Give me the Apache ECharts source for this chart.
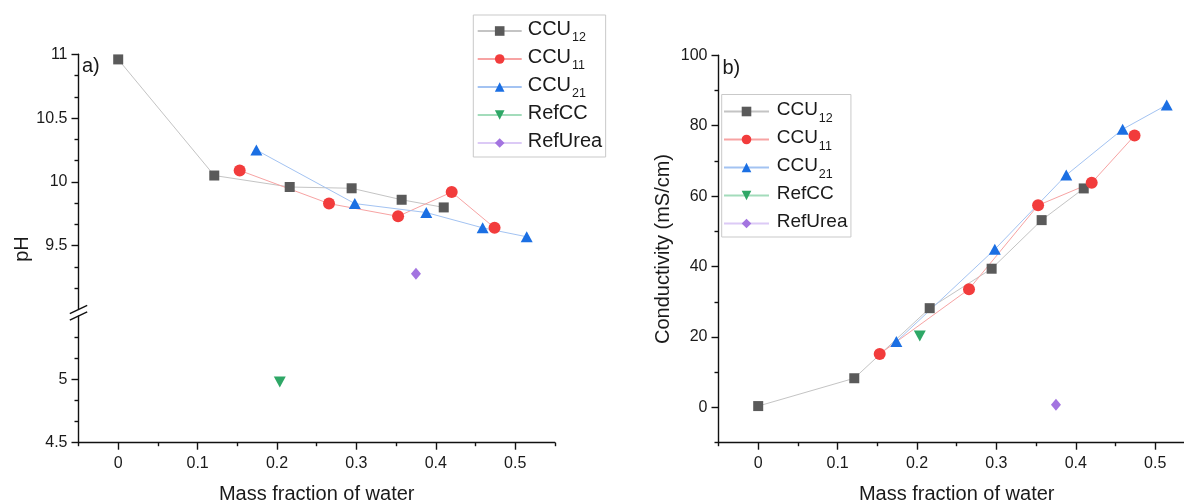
<!DOCTYPE html>
<html><head><meta charset="utf-8">
<script src="https://cdn.jsdelivr.net/npm/echarts@6/dist/echarts.min.js"></script>
<style>html,body{margin:0;padding:0;background:#fff}#c{width:1184px;height:503px}</style>
</head><body><div id="c"></div>
<script>
// ---- data ----
const seriesNames = ['CCU12', 'CCU11', 'CCU21', 'RefCC', 'RefUrea'];
const xCCU12 = [0, 0.121, 0.216, 0.294, 0.357, 0.41];
const xCCU11 = [0.153, 0.2655, 0.3525, 0.42, 0.474];
const xCCU21 = [0.174, 0.298, 0.388, 0.459, 0.5145];
const xRefCC = [0.2035];
const xRefUrea = [0.375];
const pHCCU12 = [10.96, 10.05, 9.96, 9.95, 9.86, 9.80];
const pHCCU11 = [10.09, 9.83, 9.73, 9.92, 9.64];
const pHCCU21 = [10.25, 9.83, 9.76, 9.64, 9.57];
const pHRefCC = [4.98];
const pHRefUrea = [9.28];
const condCCU12 = [0.4, 8.3, 28.2, 39.4, 53.2, 62.2];
const condCCU11 = [15.2, 33.6, 57.4, 63.8, 77.2];
const condCCU21 = [18.7, 44.9, 66.0, 79.0, 85.9];
const condRefCC = [20.3];
const condRefUrea = [0.8];
const xMajorTicks = [0, 0.1, 0.2, 0.3, 0.4, 0.5];
const xMinorTicks = [-0.05, 0.05, 0.15, 0.25, 0.35, 0.45, 0.55];
const pHUpperTicks = [9.5, 10, 10.5, 11];
const pHLowerTicks = [4.5, 5];
const condMajorTicks = [0, 20, 40, 60, 80, 100];
const condMinorTicks = [-10, 10, 30, 50, 70, 90];

// ---- styles ----
const FF = "'Liberation Sans', Arial, Helvetica, sans-serif";
const TXT = '#1a1a1a';
const AX = '#111';
const styles = {
  CCU12: {symbol: 'rect', size: 10, color: '#5a5a5a', line: '#c4c4c4'},
  CCU11: {symbol: 'circle', size: 12, color: '#f23c3c', line: '#f7a3a3'},
  CCU21: {symbol: 'triangle', size: [12, 11], color: '#1b6fe3', line: '#a3c3f2'},
  RefCC: {symbol: 'path://M0,0L10,0L5,9Z', size: [12, 11], color: '#2ea766', line: '#a3dcbb'},
  RefUrea: {symbol: 'diamond', size: [10, 12], color: '#a374e0', line: '#dccaf6'}
};
const G = {lx: 78.5, w: 476.4, upTop: 54.3, upH: 255.2, loTop: 316, loH: 126.7, rx: 718.5, rTop: 55.3, rH: 387.4};

function mk(name, xs, ys, xi, yi) {
  const s = styles[name];
  return {
    name, type: 'line', xAxisIndex: xi, yAxisIndex: yi,
    data: xs.map((x, i) => [x, ys[i]]),
    symbol: s.symbol, symbolSize: s.size, showSymbol: true,
    itemStyle: {color: s.color}, lineStyle: {color: s.line, width: 1},
    emphasis: {disabled: true}, animation: false
  };
}
const lineS = {color: AX, width: 1.4};
const lblS = {color: TXT, fontSize: 16, fontFamily: FF};
const nameS = {color: TXT, fontSize: 20, fontFamily: FF};

function xMain(gi) {
  return {gridIndex: gi, type: 'value', min: -0.05, max: 0.55, position: 'bottom',
    axisLine: {show: true, onZero: false, lineStyle: lineS},
    axisTick: {show: true, customValues: xMajorTicks, length: 7, lineStyle: lineS},
    axisLabel: Object.assign({customValues: xMajorTicks, margin: 13}, lblS),
    splitLine: {show: false},
    name: 'Mass fraction of water', nameLocation: 'middle', nameGap: 42, nameTextStyle: nameS};
}
function xMinor(gi) {
  return {gridIndex: gi, type: 'value', min: -0.05, max: 0.55, position: 'bottom', offset: 0,
    axisLine: {show: false, onZero: false}, axisTick: {show: true, customValues: xMinorTicks, length: 3.5, lineStyle: lineS},
    axisLabel: {show: false}, splitLine: {show: false}};
}
function legendFmt(n) {
  const m = n.match(/^CCU(\d+)$/);
  return m ? '{a|CCU}{s|' + m[1] + '}' : '{a|' + n + '}{t|\u00a0}';
}
function legend(left, top, fs, iw, pad, padL) {
  return {orient: 'vertical', left, top, itemWidth: iw, itemHeight: 12, itemGap: 3,
    padding: pad, borderColor: '#c9c9c9', borderWidth: 1, backgroundColor: '#fff',
    data: seriesNames, formatter: legendFmt, selectedMode: false,
    textStyle: {fontFamily: FF, fontSize: fs, color: TXT,
      rich: {
        a: {fontFamily: FF, fontSize: fs, lineHeight: 23, verticalAlign: 'top', padding: [0, 0, 0, padL], color: TXT},
        s: {fontFamily: FF, fontSize: 12.5, lineHeight: 13, verticalAlign: 'top', padding: [12, 0, 0, 1], color: TXT},
        t: {fontFamily: FF, fontSize: 12.5, lineHeight: 13, verticalAlign: 'top', padding: [12, 0, 0, 0], color: TXT}
      }}};
}

const option = {
  animation: false,
  backgroundColor: '#fff',
  grid: [
    {left: G.lx, top: G.upTop, width: G.w, height: G.upH, outerBoundsMode: 'none', containLabel: false},
    {left: G.lx, top: G.loTop, width: G.w, height: G.loH, outerBoundsMode: 'none', containLabel: false},
    {left: G.rx, top: G.rTop, width: G.w, height: G.rH, outerBoundsMode: 'none', containLabel: false}
  ],
  xAxis: [
    {gridIndex: 0, type: 'value', min: -0.05, max: 0.55, show: false},
    xMain(1), xMinor(1), xMain(2), xMinor(2)
  ],
  yAxis: [
    {gridIndex: 0, type: 'value', min: 9, max: 11, interval: 0.5, position: 'left',
      axisLine: {show: true, onZero: false, lineStyle: lineS},
      axisTick: {show: true, customValues: pHUpperTicks, length: 7, lineStyle: lineS},
      minorTick: {show: true, splitNumber: 3, length: 4, lineStyle: lineS},
      axisLabel: Object.assign({customValues: pHUpperTicks, margin: 11}, lblS),
      splitLine: {show: false}, minorSplitLine: {show: false}},
    {gridIndex: 1, type: 'value', min: 4.5, max: 5.5, interval: 0.5, position: 'left',
      axisLine: {show: true, onZero: false, lineStyle: lineS},
      axisTick: {show: true, customValues: pHLowerTicks, length: 7, lineStyle: lineS},
      minorTick: {show: true, splitNumber: 3, length: 4, lineStyle: lineS},
      axisLabel: Object.assign({customValues: pHLowerTicks, margin: 11}, lblS),
      splitLine: {show: false}, minorSplitLine: {show: false}},
    {gridIndex: 2, type: 'value', min: -10, max: 100, position: 'left',
      axisLine: {show: true, onZero: false, lineStyle: lineS},
      axisTick: {show: true, customValues: condMajorTicks, length: 7, lineStyle: lineS},
      axisLabel: Object.assign({customValues: condMajorTicks, margin: 11}, lblS),
      splitLine: {show: false},
      name: 'Conductivity (mS/cm)', nameLocation: 'middle', nameGap: 45, nameTextStyle: nameS},
    {gridIndex: 2, type: 'value', min: -10, max: 100, position: 'left', offset: 0,
      axisLine: {show: false, onZero: false}, axisTick: {show: true, customValues: condMinorTicks, length: 4, lineStyle: lineS},
      axisLabel: {show: false}, splitLine: {show: false}}
  ],
  legend: [
    legend(473.3, 15, 20, 44, [4.5, 0, 0.5, 3.4], 1),
    legend(721.7, 94.5, 19, 45, [5.5, 0, 0, 1.3], 2.7)
  ],
  series: [
    mk('CCU12', xCCU12, pHCCU12, 0, 0),
    mk('CCU11', xCCU11, pHCCU11, 0, 0),
    mk('CCU21', xCCU21, pHCCU21, 0, 0),
    mk('RefCC', xRefCC, pHRefCC, 1, 1),
    mk('RefUrea', xRefUrea, pHRefUrea, 0, 0),
    mk('CCU12', xCCU12, condCCU12, 3, 2),
    mk('CCU11', xCCU11, condCCU11, 3, 2),
    mk('CCU21', xCCU21, condCCU21, 3, 2),
    mk('RefCC', xRefCC, condRefCC, 3, 2),
    mk('RefUrea', xRefUrea, condRefUrea, 3, 2)
  ],
  graphic: [
    {type: 'text', x: 22, y: 249, rotation: Math.PI / 2,
      style: {text: 'pH', fontSize: 20, fontFamily: FF, fill: TXT, align: 'center', verticalAlign: 'middle', textAlign: 'center', textVerticalAlign: 'middle'}},
    {type: 'text', x: 82, y: 66,
      style: {text: 'a)', fontSize: 20, fontFamily: FF, fill: TXT, align: 'left', verticalAlign: 'middle', textAlign: 'left', textVerticalAlign: 'middle'}},
    {type: 'text', x: 722.5, y: 68,
      style: {text: 'b)', fontSize: 20, fontFamily: FF, fill: TXT, align: 'left', verticalAlign: 'middle', textAlign: 'left', textVerticalAlign: 'middle'}},
    {type: 'line', z: 10, shape: {x1: G.lx - 8.7, y1: G.upTop + G.upH + 4.2, x2: G.lx + 8.7, y2: G.upTop + G.upH - 4.2},
      style: {stroke: AX, lineWidth: 1.4}},
    {type: 'line', z: 10, shape: {x1: G.lx - 8.7, y1: G.loTop + 4.2, x2: G.lx + 8.7, y2: G.loTop - 4.2},
      style: {stroke: AX, lineWidth: 1.4}}
  ]
};
const chart = echarts.init(document.getElementById('c'), null, {renderer: 'canvas'});
chart.setOption(option);
</script>
</body></html>
